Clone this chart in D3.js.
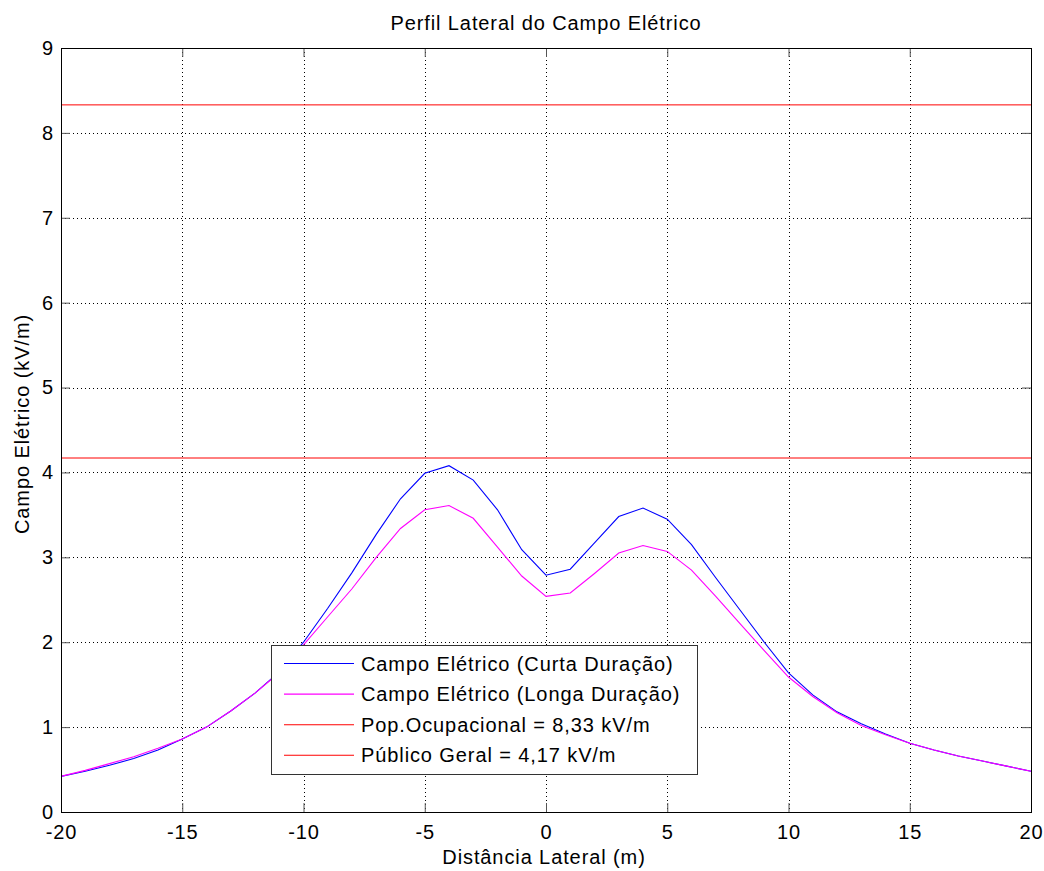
<!DOCTYPE html>
<html>
<head>
<meta charset="utf-8">
<script src="https://cdn.jsdelivr.net/npm/d3@7"></script>
<style>
	body { margin: 0; background: #fff; }
	svg text { font-family: "Liberation Sans", Arial, sans-serif; font-size: 20px; letter-spacing: 0.9px; fill: #000; }
</style>
</head>
<body>
<svg id="chart" width="1044" height="871"></svg>
<script>
// distancia lateral (m)
var distancias = [-20, -19, -18, -17, -16, -15, -14, -13, -12, -11, -10, -9, -8, -7, -6, -5, -4, -3, -2, -1,
	0, 1, 2, 3, 4, 5, 6, 7, 8, 9, 10, 11, 12, 13, 14, 15, 16, 17, 18, 19, 20];
// campo eletrico (kV/m)
var curtaDuracao = [0.42, 0.48, 0.55, 0.63, 0.73, 0.86, 1.00, 1.19, 1.40, 1.65, 2.00, 2.40, 2.82, 3.27, 3.69, 3.99, 4.08, 3.91, 3.56, 3.09,
	2.79, 2.86, 3.17, 3.48, 3.58, 3.45, 3.15, 2.76, 2.38, 2.00, 1.64, 1.38, 1.18, 1.04, 0.92, 0.81, 0.73, 0.66, 0.60, 0.54, 0.48];
var longaDuracao = [0.42, 0.49, 0.57, 0.65, 0.75, 0.86, 1.00, 1.19, 1.40, 1.64, 1.97, 2.30, 2.63, 3.00, 3.34, 3.56, 3.61, 3.46, 3.12, 2.78,
	2.54, 2.58, 2.81, 3.05, 3.14, 3.07, 2.85, 2.54, 2.22, 1.90, 1.59, 1.36, 1.17, 1.02, 0.91, 0.81, 0.73, 0.66, 0.60, 0.54, 0.48];
var limites = [8.33, 4.17];
var xTicks = [-20, -15, -10, -5, 0, 5, 10, 15, 20];
var yTicks = [0, 1, 2, 3, 4, 5, 6, 7, 8, 9];
var legenda = ['Campo Elétrico (Curta Duração)', 'Campo Elétrico (Longa Duração)', 'Pop.Ocupacional = 8,33 kV/m', 'Público Geral = 4,17 kV/m'];
var cores = ['#0000ff', '#ff00ff', '#ff0000', '#ff0000'];

var svg = d3.select('#chart');
var pLeft = 61, pRight = 1031, pTop = 48, pBottom = 812;

var x = d3.scaleLinear().domain([-20, 20]).range([pLeft, pRight]);
var y = d3.scaleLinear().domain([0, 9]).range([pBottom, pTop]);

// grid
var grid = svg.append('g').attr('stroke', '#000').attr('stroke-width', 1).attr('stroke-dasharray', '1,3');
xTicks.slice(1, -1).forEach(function(t) {
	grid.append('line').attr('x1', Math.round(x(t)) + 0.5).attr('x2', Math.round(x(t)) + 0.5).attr('y1', pTop).attr('y2', pBottom);
});
yTicks.slice(1, -1).forEach(function(t) {
	grid.append('line').attr('y1', Math.round(y(t)) + 0.5).attr('y2', Math.round(y(t)) + 0.5).attr('x1', pLeft).attr('x2', pRight);
});

// axes with inward ticks on all four sides
var fmt = function(d) { return String(d); };
var xAxisB = d3.axisBottom(x).tickValues(xTicks).tickSize(-9).tickFormat(fmt);
var xAxisT = d3.axisTop(x).tickValues(xTicks).tickSize(-9).tickFormat('');
var yAxisL = d3.axisLeft(y).tickValues(yTicks).tickSize(-9).tickFormat(fmt);
var yAxisR = d3.axisRight(y).tickValues(yTicks).tickSize(-9).tickFormat('');

function styleAxis(g) {
	g.select('.domain').remove();
	g.selectAll('.tick line').attr('stroke', '#555');
	g.selectAll('text').style('font-size', '20px').attr('fill', '#000');
}
svg.append('g').attr('transform', 'translate(0,' + pBottom + ')').call(xAxisB).call(styleAxis)
	.selectAll('text').attr('dy', '0.71em').attr('y', 13);
svg.append('g').attr('transform', 'translate(0,' + pTop + ')').call(xAxisT).call(styleAxis);
svg.append('g').attr('transform', 'translate(' + pLeft + ',0)').call(yAxisL).call(styleAxis)
	.selectAll('text').attr('x', -7);
svg.append('g').attr('transform', 'translate(' + pRight + ',0)').call(yAxisR).call(styleAxis);

// limits
limites.forEach(function(v) {
	svg.append('line').attr('x1', pLeft).attr('x2', pRight).attr('y1', y(v)).attr('y2', y(v))
		.attr('stroke', '#ff0000').attr('stroke-width', 1);
});

// curves
var line = d3.line().x(function(d) { return x(d[0]); }).y(function(d) { return y(d[1]); });
[[curtaDuracao, cores[0]], [longaDuracao, cores[1]]].forEach(function(s) {
	svg.append('path').datum(distancias.map(function(d, i) { return [d, s[0][i]]; }))
		.attr('d', line).attr('fill', 'none').attr('stroke', s[1]).attr('stroke-width', 1.1);
});

// box
svg.append('rect').attr('x', pLeft + 0.5).attr('y', pTop + 0.5).attr('width', pRight - pLeft).attr('height', pBottom - pTop)
	.attr('fill', 'none').attr('stroke', '#000').attr('stroke-width', 1);

// titles
svg.append('text').attr('x', 546).attr('y', 30).attr('text-anchor', 'middle').text('Perfil Lateral do Campo Elétrico');
svg.append('text').attr('x', 544).attr('y', 864).attr('text-anchor', 'middle').text('Distância Lateral (m)');
svg.append('text').attr('transform', 'translate(29,424) rotate(-90)').attr('text-anchor', 'middle').text('Campo Elétrico (kV/m)');

// legend
var leg = svg.append('g').attr('transform', 'translate(271,645)');
leg.append('rect').attr('x', 0.5).attr('y', 0.5).attr('width', 426).attr('height', 129)
	.attr('fill', '#fff').attr('stroke', '#333').attr('stroke-width', 1);
legenda.forEach(function(label, i) {
	var yy = 18.5 + i * 30.6;
	leg.append('line').attr('x1', 13).attr('x2', 83).attr('y1', yy).attr('y2', yy)
		.attr('stroke', cores[i]).attr('stroke-width', 1.1);
	leg.append('text').attr('x', 90).attr('y', yy + 7).text(label);
});
</script>
</body>
</html>
